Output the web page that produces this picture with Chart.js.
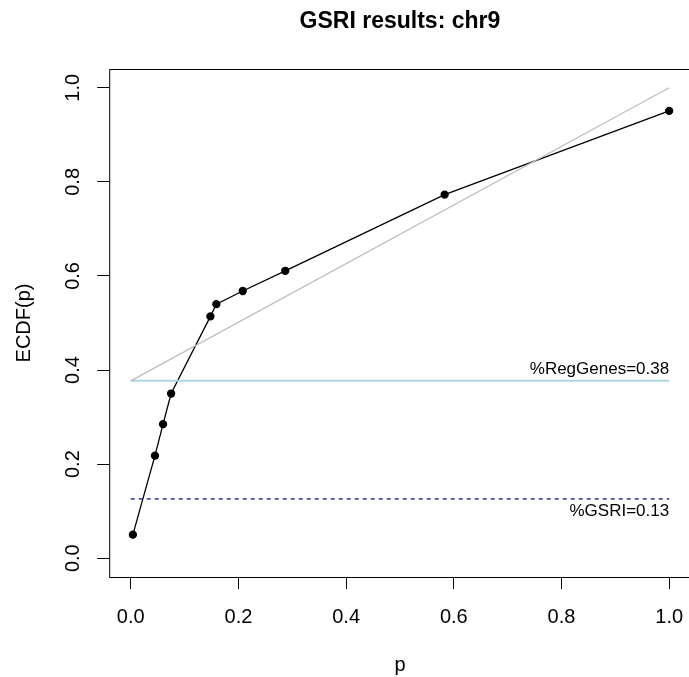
<!DOCTYPE html>
<html>
<head>
<meta charset="utf-8">
<script src="https://cdn.jsdelivr.net/npm/chart.js@4/dist/chart.umd.min.js"></script>
<style>
  html, body { margin: 0; padding: 0; background: #fff; overflow: hidden; }
  #wrap { width: 692px; height: 677px; }
</style>
</head>
<body>
<div id="wrap"><canvas id="ecdfChart" width="692" height="677"></canvas></div>
<script>
// Données
const titleText = 'GSRI results: chr9';
const pValues = [0.004, 0.045, 0.060, 0.075, 0.148, 0.159, 0.208, 0.287, 0.583, 1.0];
const ecdfValues = [0.050, 0.218, 0.285, 0.350, 0.514, 0.540, 0.568, 0.611, 0.773, 0.951];
const regGenes = 0.377;
const gsri = 0.126;
const regGenesLabel = '%RegGenes=0.38';
const gsriLabel = '%GSRI=0.13';
const xTicks = [0, 0.2, 0.4, 0.6, 0.8, 1.0];
const yTicks = [0, 0.2, 0.4, 0.6, 0.8, 1.0];

const FONT = "'Liberation Sans', Arial, sans-serif";

// Cadre, titre et annotations
const boxPlugin = {
    id: 'boxPlugin',
    afterDraw(chart) {
        const { ctx, chartArea, scales } = chart;
        ctx.save();
        ctx.strokeStyle = '#000';
        ctx.lineWidth = 1;
        ctx.strokeRect(chartArea.left + 0.5, chartArea.top + 0.5,
            chartArea.right - chartArea.left, chartArea.bottom - chartArea.top);

        ctx.fillStyle = '#000';
        ctx.font = 'bold 23px ' + FONT;
        ctx.textAlign = 'center';
        ctx.textBaseline = 'alphabetic';
        ctx.fillText(titleText, (chartArea.left + chartArea.right) / 2, 28);

        const xr = scales.x.getPixelForValue(1.0);
        ctx.font = '17px ' + FONT;
        ctx.textAlign = 'right';
        ctx.fillText(regGenesLabel, xr, scales.y.getPixelForValue(regGenes) - 7);
        ctx.fillText(gsriLabel, xr, scales.y.getPixelForValue(gsri) + 17);
        ctx.restore();
    }
};

const ctx = document.getElementById('ecdfChart');
new Chart(ctx, {
    type: 'scatter',
    data: {
        datasets: [
            {
                // ligne grise
                data: [{ x: 0, y: regGenes }, { x: 1, y: 1 }],
                showLine: true,
                borderColor: '#BEBEBE',
                borderWidth: 1.2,
                pointRadius: 0
            },
            {
                data: [{ x: 0, y: regGenes }, { x: 1, y: regGenes }],
                showLine: true,
                borderColor: '#ADD8E6',
                borderWidth: 2,
                pointRadius: 0
            },
            {
                data: [{ x: 0, y: gsri }, { x: 1, y: gsri }],
                showLine: true,
                borderColor: '#00008B',
                borderWidth: 1.2,
                borderDash: [4, 4],
                pointRadius: 0
            },
            {
                data: pValues.map((p, i) => ({ x: p, y: ecdfValues[i] })),
                showLine: true,
                borderColor: '#000',
                borderWidth: 1.3,
                pointRadius: 3.5,
                pointBackgroundColor: '#000',
                pointBorderColor: '#000'
            }
        ]
    },
    options: {
        responsive: false,
        animation: false,
        layout: { autoPadding: false, padding: { top: 69, left: 0, right: 1.3, bottom: 0 } },
        plugins: {
            legend: { display: false },
            tooltip: { enabled: false }
        },
        scales: {
            x: {
                type: 'linear',
                min: -0.04,
                max: 1.04,
                afterBuildTicks: s => { s.ticks = xTicks.map(v => ({ value: v })); },
                afterFit: s => { s.height = 100; s.paddingLeft = 0; s.paddingRight = 0; },
                border: { display: false },
                grid: { drawOnChartArea: false, drawTicks: true, tickLength: 12, color: '#000' },
                ticks: {
                    color: '#000',
                    padding: 16,
                    maxRotation: 0,
                    font: { family: FONT, size: 20 },
                    callback: v => v.toFixed(1)
                },
                title: {
                    display: true,
                    text: 'p',
                    color: '#000',
                    font: { family: FONT, size: 20 },
                    padding: { top: 0, bottom: 0 }
                }
            },
            y: {
                type: 'linear',
                min: -0.04,
                max: 1.04,
                afterBuildTicks: s => { s.ticks = yTicks.map(v => ({ value: v })); },
                afterFit: s => { s.width = 109.2; s.paddingTop = 0; s.paddingBottom = 0; },
                border: { display: false },
                grid: { drawOnChartArea: false, drawTicks: true, tickLength: 12, color: '#000' },
                ticks: {
                    color: '#000',
                    padding: 10,
                    minRotation: 90,
                    maxRotation: 90,
                    crossAlign: 'center',
                    font: { family: FONT, size: 20 },
                    callback: v => v.toFixed(1)
                },
                title: {
                    display: true,
                    text: 'ECDF(p)',
                    color: '#000',
                    font: { family: FONT, size: 20 },
                    padding: { top: 12, bottom: 0 }
                }
            }
        }
    },
    plugins: [boxPlugin]
});
</script>
</body>
</html>
